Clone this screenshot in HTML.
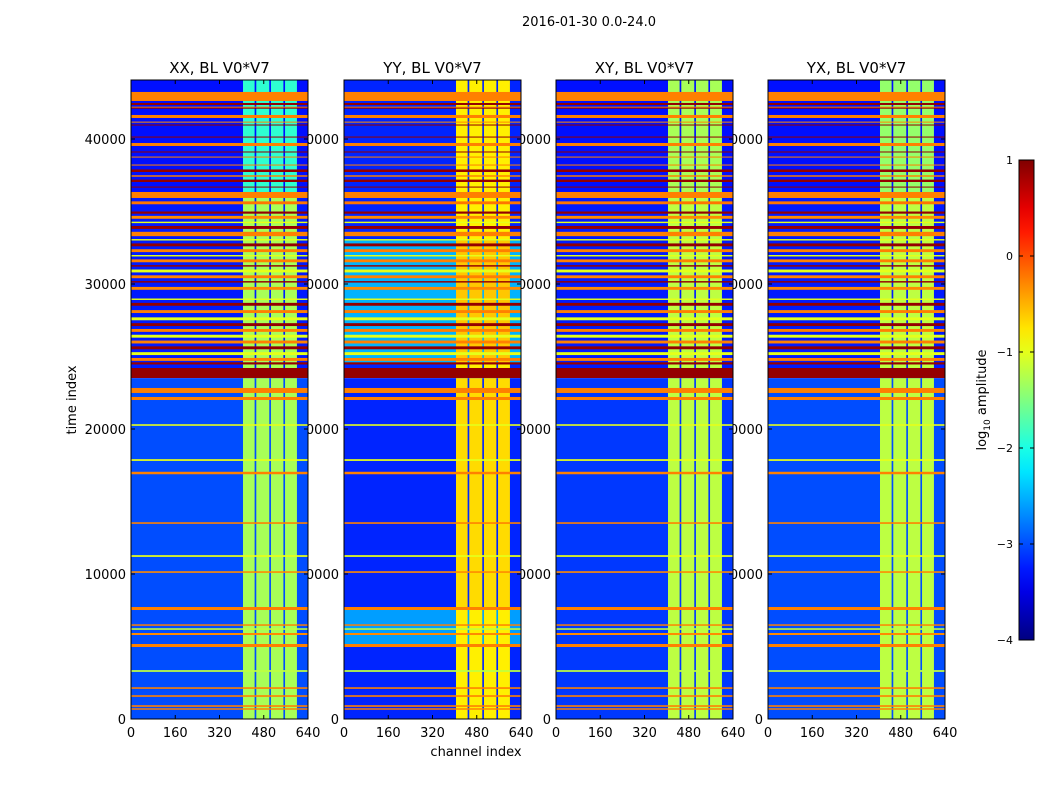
<!DOCTYPE html>
<html><head><meta charset="utf-8">
<style>
html,body{margin:0;padding:0;background:#fff;}
svg text{font-family:"DejaVu Sans","Liberation Sans",sans-serif;fill:#000;}
</style></head>
<body>
<svg id="fig" width="1050" height="800" viewBox="0 0 1050 800" xmlns="http://www.w3.org/2000/svg">
<rect width="1050" height="800" fill="#fff"/>
<text x="589" y="26" font-size="13" text-anchor="middle">2016-01-30 0.0-24.0</text>
<g id="labels"></g>
<g id="panels"></g>
<text x="476" y="756" font-size="13" text-anchor="middle">channel index</text>
<text x="0" y="0" font-size="13" text-anchor="middle" transform="translate(76,400) rotate(-90)">time index</text>
<g id="cbar"></g>
</svg>
<script>
const panelTitles = ["XX, BL V0*V7","YY, BL V0*V7","XY, BL V0*V7","YX, BL V0*V7"];
const xTicks = [0,160,320,480,640];
const yTicks = [0,10000,20000,30000,40000];
const cbTicks = [1,0,-1,-2,-3,-4];
const brightCols = [[405,447],[453,500],[506,551],[557,600]];
// background segments per panel: [t0, t1, offValue, onValue]
const segXX = [[0,23500,-3.0,-1.3],[23500,36000,-3.25,-1.3],[36000,44100,-3.3,-1.9]];
const segYY = [[0,5000,-3.2,-0.8],[5000,7600,-2.6,-0.8],[7600,23500,-3.2,-0.7],[23500,24500,-3.2,-0.8],[24500,33000,-2.5,-0.6],[33000,44100,-3.2,-0.8]];
const segXY = [[0,23500,-3.1,-1.2],[23500,36000,-3.25,-1.2],[36000,44100,-3.3,-1.3]];
const segYX = [[0,23500,-3.0,-1.2],[23500,36000,-3.25,-1.2],[36000,44100,-3.3,-1.4]];
const panelSegs = [segXX, segYY, segXY, segYX];
// full-width horizontal bands: [t0, t1, value]
const bands = [
 [42623,43245,-0.25],[42347,42485,0.9],[42180,42230,-0.25],[42110,42160,0.9],[41450,41658,-0.25],[41130,41200,-0.3],[40930,41000,0.9],
 [40100,40170,0.9],[39519,39726,-0.25],[39070,39140,0.9],[38720,38790,-0.25],[38170,38240,-0.25],[37726,37900,0.9],[37400,37500,-0.25],[37036,37200,0.9],
 [36650,36720,0.9],[35933,36347,-0.25],[35500,35700,-0.2],[34850,35000,0.9],[34500,34700,-0.3],[34200,34300,-1],[33800,34000,0.9],[33300,33600,-0.25],
 [33000,33100,-1],[32600,32800,0.9],[32200,32400,-0.25],[31900,32000,-1],[31500,31700,-0.25],[31200,31300,0.9],[30800,31000,-1],[30400,30600,-0.25],
 [30100,30200,0.9],[29600,29800,-0.3],[28900,29000,-1],[28500,28700,0.9],[28000,28200,-0.25],[27500,27700,-1],[27100,27300,0.9],[26700,26900,-0.25],
 [26300,26500,-1],[25900,26100,-0.25],[25500,25700,0.9],[25100,25300,-1],[24700,24900,-0.25],[24450,24600,0.9],[23519,24208,0.9],
 [22485,22830,-0.25],[22000,22209,-0.25],[20220,20330,-1],[17800,17920,-1],[16880,17050,-0.25],[13460,13570,-0.25],[11180,11300,-1],
 [10080,10190,-0.3],[7517,7724,-0.25],[6430,6530,-0.25],[6150,6260,-1.2],[5793,5931,-0.3],[4966,5172,-0.25],[3250,3370,-1.2],
 [2080,2190,-0.25],[1530,1640,-0.25],[840,950,-0.25],[640,740,-0.25]
];
const panelX = [131,344,556,768];
const PW = 177, PT = 80, PB = 719, TMAX = 44070, CMAX = 640;
const NS = "http://www.w3.org/2000/svg";
function yScale(t){ return PB - (t/TMAX)*(PB-PT); }
function xScale(p,c){ return panelX[p] + (c/CMAX)*PW; }
function jet(v){
  let n=(v+4)/5; n=Math.max(0,Math.min(1,n));
  const cl=x=>Math.round(255*Math.max(0,Math.min(1,x)));
  return "rgb("+cl(1.5-Math.abs(4*n-3))+","+cl(1.5-Math.abs(4*n-2))+","+cl(1.5-Math.abs(4*n-1))+")";
}
function mk(tag,attrs,parent){ const e=document.createElementNS(NS,tag); for(const k in attrs) e.setAttribute(k,attrs[k]); parent.appendChild(e); return e; }
const labels=document.getElementById('labels'), panels=document.getElementById('panels');
for(let p=0;p<4;p++){
  for(const t of yTicks){
    const tx=mk('text',{x:panelX[p]-5,y:yScale(t)+5,'font-size':13,'text-anchor':'end'},labels);
    
    
    tx.textContent=t;
  }
  for(const c of xTicks){
    const tx=mk('text',{x:xScale(p,c),y:737,'font-size':13,'text-anchor':'middle'},labels);
    
    
    tx.textContent=c;
  }
  const g=mk('g',{},panels);
  
  
  const x0=panelX[p];
  mk('rect',{x:x0,y:PT,width:PW,height:PB-PT,fill:'#fff'},g);
  for(const s of panelSegs[p]){
    const y1=yScale(Math.min(s[1],TMAX)), y0=yScale(s[0]);
    const r=mk('rect',{x:x0,y:y1,width:PW,height:y0-y1,fill:jet(s[2])},g);
    
    
    for(const bc of brightCols){
      const cx=xScale(p,bc[0]);
      const c=mk('rect',{x:cx,y:y1,width:xScale(p,bc[1])-cx,height:y0-y1,fill:jet(s[3])},g);
      
      
    }
  }
  for(const b of bands){
    const y1=yScale(b[1]), y0=yScale(b[0]);
    const r=mk('rect',{x:x0,y:y1,width:PW,height:Math.max(1,y0-y1),fill:jet(b[2])},g);
    
    
  }
  const fr=mk('rect',{x:x0,y:PT,width:PW,height:PB-PT,fill:'none',stroke:'#000','stroke-width':1},g);
  
  
  for(const c of xTicks){
    const x=xScale(p,c);
    mk('line',{x1:x,x2:x,y1:PB,y2:PB-4,stroke:'#000'},g);
    mk('line',{x1:x,x2:x,y1:PT,y2:PT+4,stroke:'#000'},g);
  }
  for(const t of yTicks){
    const y=yScale(t);
    mk('line',{x1:x0,x2:x0+4,y1:y,y2:y,stroke:'#000'},g);
    mk('line',{x1:x0+PW,x2:x0+PW-4,y1:y,y2:y,stroke:'#000'},g);
  }
  const tt=mk('text',{x:x0+PW/2,y:73,'font-size':15,'text-anchor':'middle'},g);
  
  
  tt.textContent=panelTitles[p];
}
// colorbar
const cb=document.getElementById('cbar');
const CX=1019, CW=15, CT=160, CB=640;
function cbY(v){ return CB - (v+4)/5*(CB-CT); }
const defs=mk('defs',{},cb);
const lg=mk('linearGradient',{id:'jetg',x1:0,y1:1,x2:0,y2:0},defs);
for(let i=0;i<=20;i++){ mk('stop',{offset:i/20,'stop-color':jet(-4+5*i/20)},lg); }
const cr=mk('rect',{x:CX,y:CT,width:CW,height:CB-CT,fill:'url(#jetg)',stroke:'#000'},cb);


for(const v of cbTicks){
  const y=cbY(v);
  mk('line',{x1:CX,x2:CX+4,y1:y,y2:y,stroke:'#000'},cb);
  mk('line',{x1:CX+CW,x2:CX+CW-4,y1:y,y2:y,stroke:'#000'},cb);
  const t=mk('text',{x:CX-6,y:y+4,'font-size':11,'text-anchor':'end'},cb);
  
  
  t.textContent=(v<0?'\u2212'+(-v):v);
}
const cl=mk('text',{'font-size':13,'text-anchor':'middle',transform:'translate(986,400) rotate(-90)'},cb);


cl.innerHTML='log<tspan font-size="9" dy="4">10</tspan><tspan dy="-4"> amplitude</tspan>';
</script>
</body></html>
